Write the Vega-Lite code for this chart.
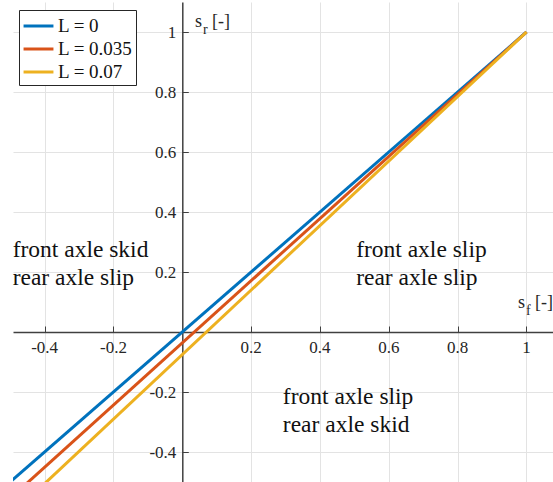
{
  "$schema": "https://vega.github.io/schema/vega-lite/v6.json",
  "width": 540,
  "height": 480,
  "padding": {"left": 13, "top": 2, "right": 0, "bottom": 0},
  "autosize": {"type": "none"},
  "background": "white",
  "config": {
    "view": {"stroke": null},
    "font": "Liberation Serif",
    "legend": {"labelFont": "Liberation Serif", "titleFont": "Liberation Serif"}
  },
  "datasets": {
    "lines": [
      {"sf": -0.6, "sr": -0.6, "series": "L = 0"},
      {"sf": 1.0, "sr": 1.0, "series": "L = 0"},
      {"sf": -0.6, "sr": -0.658, "series": "L = 0.035"},
      {"sf": 1.0, "sr": 1.0, "series": "L = 0.035"},
      {"sf": -0.6, "sr": -0.7204, "series": "L = 0.07"},
      {"sf": 1.0, "sr": 1.0, "series": "L = 0.07"}
    ],
    "notes": [
      {"sf": -0.493, "sr": 0.25, "t": "front axle skid"},
      {"sf": -0.493, "sr": 0.157, "t": "rear axle slip"},
      {"sf": 0.505, "sr": 0.25, "t": "front axle slip"},
      {"sf": 0.505, "sr": 0.157, "t": "rear axle slip"},
      {"sf": 0.292, "sr": -0.24, "t": "front axle slip"},
      {"sf": 0.292, "sr": -0.333, "t": "rear axle skid"}
    ],
    "titles": [
      {"sf": 0.037, "sr": 1.017, "main": "s", "sub": "r", "unit": "[-]"},
      {"sf": 0.975, "sr": 0.08, "main": "s", "sub": "f", "unit": "[-]"}
    ],
    "xticks": [
      {"sf": -0.4, "sr": 0, "t": "-0.4"},
      {"sf": -0.2, "sr": 0, "t": "-0.2"},
      {"sf": 0.2, "sr": 0, "t": "0.2"},
      {"sf": 0.4, "sr": 0, "t": "0.4"},
      {"sf": 0.6, "sr": 0, "t": "0.6"},
      {"sf": 0.8, "sr": 0, "t": "0.8"},
      {"sf": 1.0, "sr": 0, "t": "1"}
    ],
    "yticks": [
      {"sf": 0, "sr": -0.4, "t": "-0.4"},
      {"sf": 0, "sr": -0.2, "t": "-0.2"},
      {"sf": 0, "sr": 0.2, "t": "0.2"},
      {"sf": 0, "sr": 0.4, "t": "0.4"},
      {"sf": 0, "sr": 0.6, "t": "0.6"},
      {"sf": 0, "sr": 0.8, "t": "0.8"},
      {"sf": 0, "sr": 1.0, "t": "1"}
    ]
  },
  "encoding": {
    "x": {
      "field": "sf", "type": "quantitative",
      "scale": {"domain": [-0.492, 1.077], "nice": false, "zero": false},
      "axis": {
        "orient": "bottom",
        "offset": -150,
        "title": null,
        "values": [-0.4, -0.2, 0.2, 0.4, 0.6, 0.8, 1],
        "labels": false,
        "tickSize": -6,
        "tickColor": "#404040",
        "domainColor": "#404040",
        "domainWidth": 1.5,
        "grid": true,
        "gridColor": "#e3e3e3",
        "gridWidth": 1
      }
    },
    "y": {
      "field": "sr", "type": "quantitative",
      "scale": {"domain": [-0.5, 1.1], "nice": false, "zero": false},
      "axis": {
        "orient": "left",
        "offset": -169.3,
        "title": null,
        "values": [-0.4, -0.2, 0.2, 0.4, 0.6, 0.8, 1],
        "labels": false,
        "tickSize": -6,
        "tickColor": "#404040",
        "domainColor": "#404040",
        "domainWidth": 1.5,
        "grid": true,
        "gridColor": "#e3e3e3",
        "gridWidth": 1
      }
    }
  },
  "layer": [
    {
      "data": {"name": "lines"},
      "mark": {"type": "line", "strokeWidth": 3, "clip": true},
      "encoding": {
        "color": {
          "field": "series", "type": "nominal",
          "scale": {
            "domain": ["L = 0", "L = 0.035", "L = 0.07"],
            "range": ["#0072BD", "#D95319", "#EDB120"]
          },
          "legend": {
            "title": null,
            "orient": "none",
            "legendX": 6,
            "legendY": 8,
            "fillColor": "white",
            "strokeColor": "#262626",
            "padding": 3,
            "labelFontSize": 19,
            "labelColor": "#111111",
            "labelOffset": 6.5,
            "symbolType": "M-1.3,0H1.3",
            "symbolSize": 529,
            "symbolOffset": 3.5,
            "symbolStrokeWidth": 3,
            "rowPadding": 0
          }
        }
      }
    },
    {
      "data": {"name": "xticks"},
      "mark": {"type": "text", "align": "center", "baseline": "alphabetic", "dy": 21, "font": "Liberation Serif", "fontSize": 17, "color": "#262626"},
      "encoding": {"text": {"field": "t"}}
    },
    {
      "data": {"name": "yticks"},
      "mark": {"type": "text", "align": "right", "baseline": "middle", "dx": -6, "dy": 1, "font": "Liberation Serif", "fontSize": 17, "color": "#262626"},
      "encoding": {"text": {"field": "t"}}
    },
    {
      "data": {"name": "notes"},
      "mark": {"type": "text", "align": "left", "baseline": "alphabetic", "font": "Liberation Serif", "fontSize": 23.5, "color": "#111111"},
      "encoding": {"text": {"field": "t"}}
    },
    {
      "data": {"name": "titles"},
      "mark": {"type": "text", "align": "left", "baseline": "alphabetic", "font": "Liberation Serif", "fontSize": 18, "color": "#262626"},
      "encoding": {"text": {"field": "main"}}
    },
    {
      "data": {"name": "titles"},
      "mark": {"type": "text", "align": "left", "baseline": "alphabetic", "dx": 8, "dy": 7, "font": "Liberation Serif", "fontSize": 14, "color": "#262626"},
      "encoding": {"text": {"field": "sub"}}
    },
    {
      "data": {"name": "titles"},
      "mark": {"type": "text", "align": "left", "baseline": "alphabetic", "dx": 17, "font": "Liberation Serif", "fontSize": 18, "color": "#262626"},
      "encoding": {"text": {"field": "unit"}}
    }
  ]
}
